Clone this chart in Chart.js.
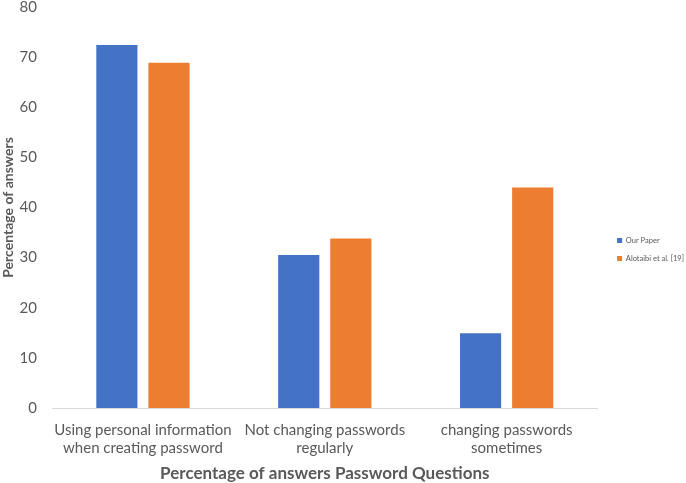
<!DOCTYPE html>
<html>
<head>
<meta charset="utf-8">
<script src="https://cdn.jsdelivr.net/npm/chart.js@4/dist/chart.umd.min.js"></script>
<style>
  html, body { margin: 0; padding: 0; background: #fff; }
  #wrap { width: 686px; height: 483px; }
</style>
</head>
<body>
<div id="wrap"><canvas id="barChart" width="686" height="483"></canvas></div>
<script>
// data
const categories = [
  ["Using personal information", "when creating password"],
  ["Not changing passwords", "regularly"],
  ["changing passwords", "sometimes"]
];
const ourPaper = [72.4, 30.5, 14.9];
const alotaibi = [68.9, 33.8, 44.0];
const yTicks = [0, 10, 20, 30, 40, 50, 60, 70, 80];

const grey = "#595959";
const font = "Lato, 'Open Sans', sans-serif";

// nudge the legend a bit away from the plot, like the original
const legendShift = {
  id: "legendShift",
  afterLayout(chart) {
    const lg = chart.legend;
    lg.left += 9;
    lg.right += 9;
    lg.top += 8;
    lg.bottom += 8;
  }
};

new Chart(document.getElementById("barChart"), {
  type: "bar",
  data: {
    labels: categories,
    datasets: [
      {
        label: "Our Paper",
        data: ourPaper,
        backgroundColor: "#4472C4",
        categoryPercentage: 0.573,
        barPercentage: 0.79
      },
      {
        label: "Alotaibi et al. [19]",
        data: alotaibi,
        backgroundColor: "#ED7D31",
        categoryPercentage: 0.573,
        barPercentage: 0.79
      }
    ]
  },
  plugins: [legendShift],
  options: {
    responsive: false,
    animation: false,
    layout: { padding: { top: 0, right: 1, left: 0, bottom: 0 } },
    plugins: {
      legend: {
        position: "right",
        align: "center",
        labels: {
          color: grey,
          font: { family: font, size: 7.5 },
          boxWidth: 5,
          boxHeight: 5,
          padding: 10.5
        }
      },
      tooltip: { enabled: false }
    },
    scales: {
      x: {
        grid: { display: false, drawTicks: false },
        border: { color: "#d9d9d9", width: 1 },
        ticks: {
          color: grey,
          font: { family: font, size: 15, lineHeight: 1.2 },
          padding: 13,
          maxRotation: 0,
          autoSkip: false
        },
        title: {
          display: true,
          text: "Percentage of answers Password Questions",
          color: grey,
          font: { family: font, size: 17, weight: "bold", lineHeight: 1.1 },
          padding: { top: 0, bottom: 0 }
        },
        afterFit: axis => { axis.height = 75; }
      },
      y: {
        min: 0,
        max: 80,
        afterBuildTicks: axis => { axis.ticks = yTicks.map(v => ({ value: v })); },
        afterFit: axis => {
          axis.width = 52;
          axis.paddingTop = 7;
          axis.paddingBottom = 0;
        },
        grid: { display: false, drawTicks: false },
        border: { display: false },
        ticks: {
          color: grey,
          font: { family: font, size: 15 },
          padding: 15
        },
        title: {
          display: true,
          text: "Percentage of answers",
          color: grey,
          font: { family: font, size: 14, weight: "bold" },
          padding: { top: 0, bottom: 0 }
        }
      }
    }
  }
});
</script>
</body>
</html>
